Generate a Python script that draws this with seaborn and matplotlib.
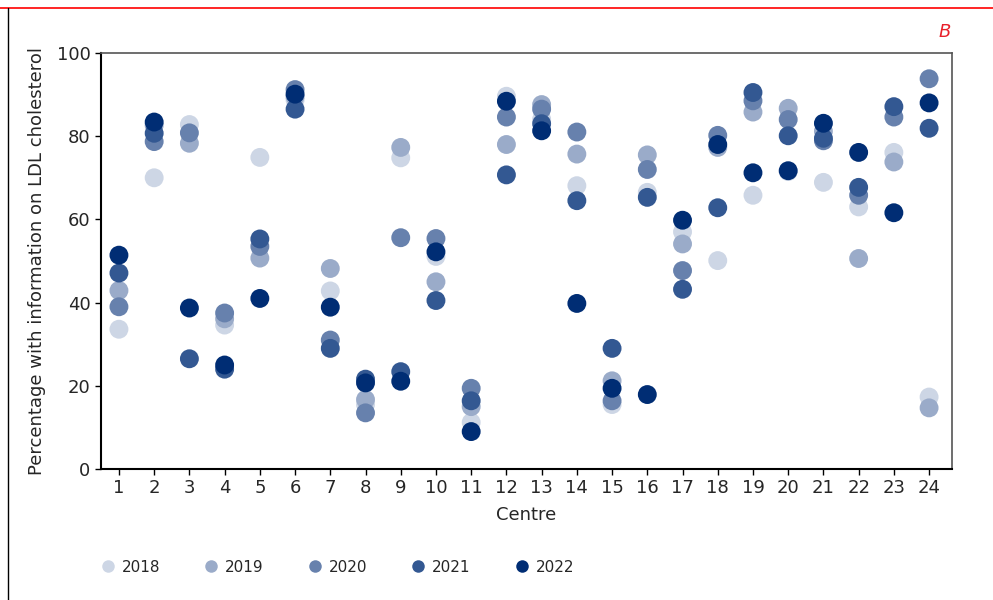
import numpy as np
import pandas as pd
import matplotlib.pyplot as plt
import seaborn as sns
from matplotlib.lines import Line2D

# Values, one list per year, centres 1..24
centres = list(range(1, 25))
years = ["2018", "2019", "2020", "2021", "2022"]
v2018 = [33.6, 70.0, 82.8, 34.6, 74.9, 88.7, 42.8, 15.5, 74.8, 51.1, 11.2, 89.6,
         84.1, 68.1, 15.5, 66.5, 57.0, 50.1, 65.8, 71.5, 68.9, 63.0, 76.1, 17.3]
v2019 = [42.9, 82.6, 78.3, 36.1, 50.7, 89.5, 48.2, 16.7, 77.3, 45.0, 15.0, 78.0,
         87.6, 75.7, 21.2, 75.5, 54.1, 77.3, 85.8, 86.7, 81.2, 50.6, 73.8, 14.7]
v2020 = [39.0, 78.7, 80.8, 37.5, 53.5, 91.2, 31.0, 13.5, 55.6, 55.4, 19.4, 84.6,
         86.5, 81.0, 16.4, 72.0, 47.7, 80.2, 88.5, 84.0, 78.9, 65.8, 84.6, 93.8]
v2021 = [47.1, 80.7, 26.5, 24.0, 55.3, 86.5, 29.0, 21.6, 23.4, 40.5, 16.4, 70.7,
         83.0, 64.5, 29.0, 65.3, 43.2, 62.8, 90.5, 80.1, 79.5, 67.7, 87.1, 81.9]
v2022 = [51.4, 83.4, 38.7, 25.0, 41.0, 90.1, 38.9, 20.7, 21.1, 52.2, 9.0, 88.4,
         81.3, 39.8, 19.4, 17.9, 59.8, 78.0, 71.2, 71.7, 83.1, 76.1, 61.6, 88.0]
colours = ["#cdd6e5", "#9aabc9", "#6781ad", "#335892", "#002d74"]

df = pd.DataFrame({
    "Centre": centres * 5,
    "Year": sum([[y] * 24 for y in years], []),
    "Value": v2018 + v2019 + v2020 + v2021 + v2022,
})

sns.set_style("white")
plt.rcParams["font.family"] = ["DejaVu Sans"]

fig = plt.figure(figsize=(9.93, 6.0), dpi=100)
ax = fig.add_axes([0.1017, 0.2183, 0.857, 0.6934])

sns.scatterplot(data=df, x="Centre", y="Value", hue="Year", hue_order=years,
                palette=colours, s=185, linewidth=0, alpha=1, ax=ax, legend=False)

ax.set_xlim(0.49, 24.65)
ax.set_ylim(0, 100)
ax.set_xticks(centres)
ax.set_yticks([0, 20, 40, 60, 80, 100])
ax.tick_params(axis="both", labelsize=13, length=4, width=1, direction="out",
               bottom=True, left=True, color="black")
ax.set_xlabel("Centre", fontsize=13, labelpad=6)
ax.set_ylabel("Percentage with information on LDL cholesterol", fontsize=13, labelpad=8)

for side in ["left", "bottom"]:
    ax.spines[side].set_color("black")
    ax.spines[side].set_linewidth(1.5)
for side in ["top", "right"]:
    ax.spines[side].set_color("#555555")
    ax.spines[side].set_linewidth(1.2)

# legend below the plot
handles = [Line2D([], [], marker="o", linestyle="", markersize=9,
                  markerfacecolor=c, markeredgewidth=0) for c in colours]
fig.legend(handles, years, loc="center left", bbox_to_anchor=(0.087, 0.055),
           ncol=5, frameon=False, fontsize=11, handlelength=1.0,
           handletextpad=0.4, columnspacing=2.85)

# frame decorations of the original figure
fig.add_artist(Line2D([0, 1], [0.987, 0.987], color="red", linewidth=1.2))
fig.add_artist(Line2D([0.008, 0.008], [0, 0.987], color="black", linewidth=1.0))
fig.text(0.951, 0.947, "B", color="#e8202a", fontsize=13, style="italic",
         ha="center", va="center")

fig.savefig("out.png", dpi=100)
